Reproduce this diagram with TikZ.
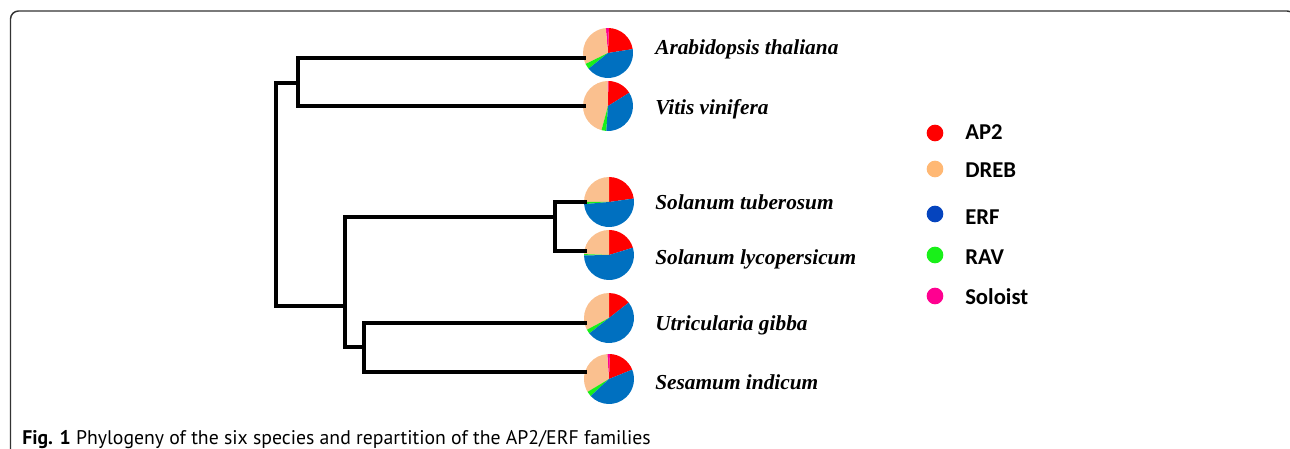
\documentclass[tikz,border=0pt]{standalone}
\usepackage{fontspec}
\setmainfont{Liberation Serif}
\newfontfamily\legendfont{Carlito}
\newfontfamily\capfont{PT Sans}
\definecolor{cAP}{HTML}{FF0000}
\definecolor{cDREB}{HTML}{FAC08F}
\definecolor{cERF}{HTML}{0070C0}
\definecolor{cRAV}{HTML}{19F019}
\definecolor{cSolo}{HTML}{FF0090}
\definecolor{lDREB}{HTML}{FFB874}
\definecolor{lERF}{HTML}{0544BE}
\newcommand\pieslice[4]{\fill[#4] (#1) -- ++(#2:18.75pt) arc[start angle=#2, end angle=#3, radius=18.75pt] -- cycle;}
\begin{document}
\begin{tikzpicture}[x=0.75pt,y=-0.75pt,
  branch/.style={line width=3pt, black, line cap=rect},
  pienode/.style={circle, minimum size=37.5pt, inner sep=0pt},
  species/.style={anchor=base west, font=\fontsize{16}{19}\selectfont\bfseries\itshape, inner sep=0pt},
  legdot/.style={circle, minimum size=12.5pt, inner sep=0pt},
  legtext/.style={anchor=base west, font=\legendfont\fontsize{17}{20}\selectfont\bfseries, inner sep=0pt},
  framebox/.style={draw=black!80, line width=1.1pt, rounded corners=6pt}]
\useasboundingbox (0,0) rectangle (1290,449);
\begin{scope}
\clip (0,0) rectangle (1290,449);
\draw[framebox] (10.5,470) rectangle (1295,11);
\end{scope}

% pies
\node[pienode] (pA) at (608,53) {};
\node[pienode] (pV) at (608,106) {};
\node[pienode] (pST) at (609,202) {};
\node[pienode] (pSL) at (609,255) {};
\node[pienode] (pU) at (609,318) {};
\node[pienode] (pSe) at (609,379) {};

\pieslice{pA.center}{9}{88}{cAP}
\pieslice{pA.center}{88}{95}{cSolo}
\pieslice{pA.center}{95}{206}{cDREB}
\pieslice{pA.center}{206}{219}{cRAV}
\pieslice{pA.center}{219}{369}{cERF}

\pieslice{pV.center}{32}{89}{cAP}
\pieslice{pV.center}{89}{91}{cSolo}
\pieslice{pV.center}{91}{255}{cDREB}
\pieslice{pV.center}{255}{266}{cRAV}
\pieslice{pV.center}{266}{392}{cERF}

\pieslice{pST.center}{8}{90}{cAP}
\pieslice{pST.center}{90}{180}{cDREB}
\pieslice{pST.center}{180}{185}{cRAV}
\pieslice{pST.center}{185}{368}{cERF}

\pieslice{pSL.center}{17}{90}{cAP}
\pieslice{pSL.center}{90}{178}{cDREB}
\pieslice{pSL.center}{178}{181}{cRAV}
\pieslice{pSL.center}{181}{377}{cERF}

\pieslice{pU.center}{38}{90}{cAP}
\pieslice{pU.center}{90}{208}{cDREB}
\pieslice{pU.center}{208}{218}{cRAV}
\pieslice{pU.center}{218}{398}{cERF}

\pieslice{pSe.center}{22}{88}{cAP}
\pieslice{pSe.center}{88}{94}{cSolo}
\pieslice{pSe.center}{94}{211}{cDREB}
\pieslice{pSe.center}{211}{223}{cRAV}
\pieslice{pSe.center}{223}{382}{cERF}

% tree
\coordinate (leafA) at (584,58);
\coordinate (leafV) at (584,106);
\coordinate (leafST) at (585,202);
\coordinate (leafSL) at (585,251);
\coordinate (leafU) at (585,323);
\coordinate (leafSe) at (585,372);
\coordinate (nAV) at (298,83);
\coordinate (root) at (276,83);
\coordinate (nB) at (345,306);
\coordinate (nS) at (555,217);
\coordinate (nUS) at (364,347);

\draw[branch] (leafA) -| (nAV) |- (leafV);
\draw[branch] (nAV) -- (root) |- (nB);
\draw[branch] (leafST) -| (nS) |- (leafSL);
\draw[branch] (nS) -| (nB) |- (nUS);
\draw[branch] (leafU) -| (nUS) |- (leafSe);

% species labels
\node[species] (tA) at (655,55) {Arabidopsis thaliana};
\node[species] (tV) at (655,115) {Vitis vinifera};
\node[species] (tST) at (655,210) {Solanum tuberosum};
\node[species] (tSL) at (655,265) {Solanum lycopersicum};
\node[species] (tU) at (655,330) {Utricularia gibba};
\node[species] (tSe) at (655,389) {Sesamum indicum};

% legend
\node[legdot, fill=cAP] (d1) at (935,133) {};
\node[legdot, fill=lDREB] (d2) at (935,169) {};
\node[legdot, fill=lERF] (d3) at (935,214) {};
\node[legdot, fill=cRAV] (d4) at (935,255) {};
\node[legdot, fill=cSolo] (d5) at (935,296) {};
\node[legtext] (l1) at (965,140) {AP2};
\node[legtext] (l2) at (965,178) {DREB};
\node[legtext] (l3) at (965,225) {ERF};
\node[legtext] (l4) at (965,265) {RAV};
\node[legtext] (l5) at (965,305) {Soloist};

% caption
\node[anchor=base west, inner sep=0pt, font=\capfont\fontsize{14.8}{17}\selectfont] (cap) at (22,444) {\textbf{Fig. 1} Phylogeny of the six species and repartition of the AP2/ERF families};
\end{tikzpicture}
\end{document}
